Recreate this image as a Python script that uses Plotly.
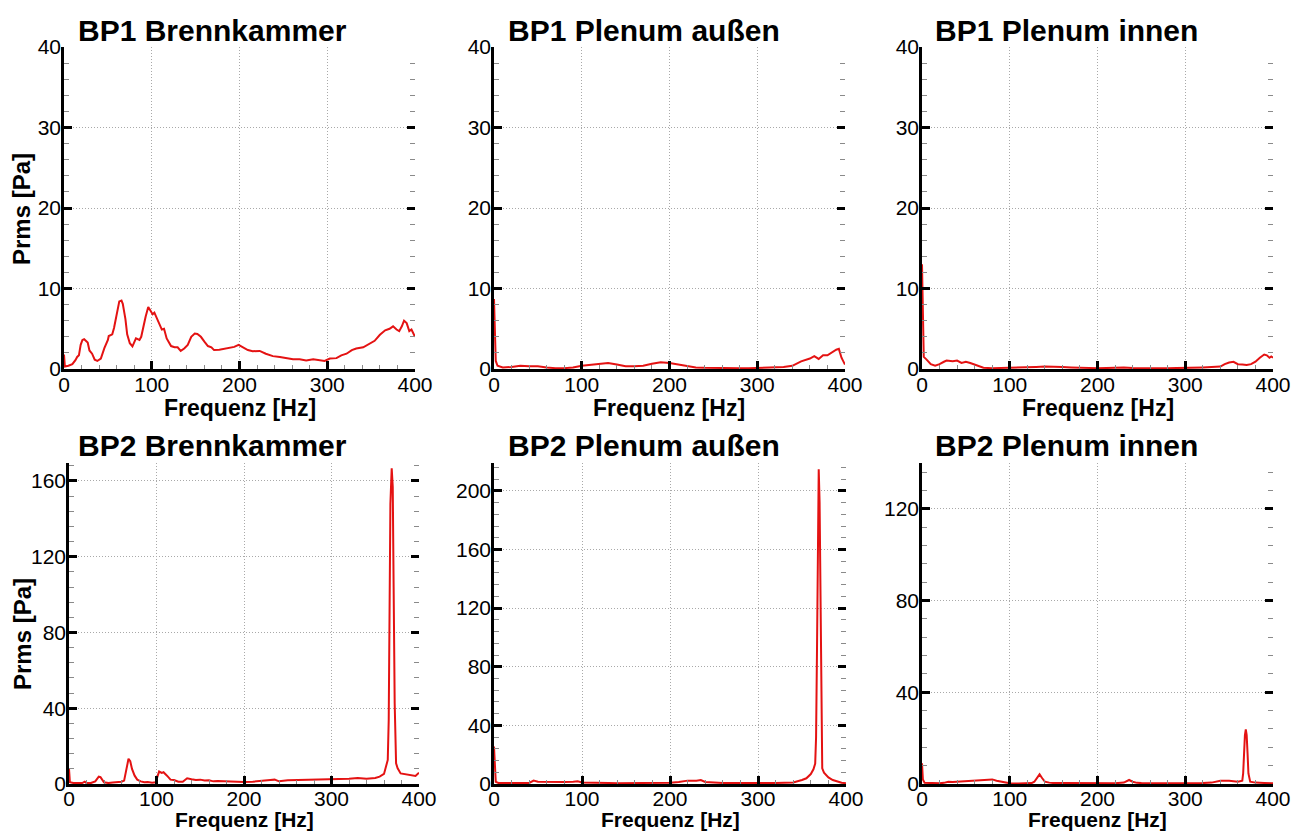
import plotly.graph_objects as go

# ---------------- data ----------------
TITLES = ["BP1 Brennkammer", "BP1 Plenum außen", "BP1 Plenum innen",
          "BP2 Brennkammer", "BP2 Plenum außen", "BP2 Plenum innen"]
X_LABEL = "Frequenz [Hz]"
Y_LABEL = "Prms [Pa]"

# (frequency [Hz], Prms [Pa]) pairs
BP1_BRENNKAMMER = [
    (0, 1.8), (1, 0.3), (5, 0.4), (9.5, 0.6), (13, 1.1), (15, 1.5), (17, 1.7), (19, 3.0), (21, 3.6),
    (23, 3.7), (27, 3.3), (29, 2.3), (32, 1.9), (35, 1.15), (38, 1.0), (42, 1.3), (46, 2.6), (50, 3.6),
    (51, 4.1), (55, 4.3), (57, 5.1), (60, 7.0), (63, 8.4), (65.5, 8.5), (67, 8.1), (70, 6.2), (72, 4.3),
    (75, 3.2), (78, 2.8), (82, 3.8), (86, 3.6), (88, 4.0), (91, 5.6), (93, 6.5), (96, 7.7), (99, 7.2),
    (101, 6.8), (103, 7.0), (105.5, 6.4), (108.5, 5.5), (111.5, 4.9), (114, 5.0), (117, 3.8),
    (122, 2.85), (126, 2.7), (129.5, 2.7), (133, 2.25), (137, 2.55), (141, 3.0), (145, 4.0), (149, 4.4),
    (152, 4.35), (156, 4.0), (160, 3.4), (164, 2.85), (168, 2.7), (171, 2.35), (177, 2.4), (183, 2.55),
    (189, 2.7), (194, 2.75), (199, 3.0), (204, 2.7), (209.5, 2.35), (215, 2.2), (223, 2.25), (230, 1.9),
    (238, 1.6), (246, 1.5), (253, 1.4), (261, 1.2), (268.5, 1.2), (276, 1.05), (284, 1.2), (291, 1.05),
    (297, 1.0), (303, 1.3), (310.5, 1.35), (316, 1.7), (322, 1.9), (328, 2.35), (333, 2.55), (341, 2.7),
    (348.5, 3.2), (354, 3.5), (360, 4.25), (366, 4.8), (371, 5.0), (375, 5.3), (379, 4.9), (382, 4.7),
    (385, 5.3), (387.5, 6.0), (390.5, 5.7), (393.5, 4.7), (396, 4.9), (400, 4.0)]

BP1_PLENUM_AUSSEN = [
    (0, 8.7), (1, 4.0), (2, 1.0), (4, 0.4), (10, 0.2), (20, 0.25), (30, 0.4), (40, 0.35), (50, 0.35),
    (60, 0.2), (70, 0.1), (80, 0.1), (90, 0.2), (100, 0.4), (110, 0.5), (120, 0.6), (130, 0.75),
    (140, 0.55), (150, 0.35), (160, 0.35), (170, 0.4), (180, 0.65), (190, 0.85), (200, 0.75),
    (210, 0.55), (220, 0.35), (230, 0.2), (240, 0.15), (250, 0.12), (260, 0.1), (270, 0.1), (280, 0.1),
    (290, 0.1), (300, 0.12), (310, 0.15), (320, 0.25), (330, 0.25), (340, 0.4), (350, 0.95), (360, 1.3),
    (365, 1.6), (370, 1.25), (375, 1.7), (380, 1.7), (385, 2.1), (390, 2.4), (393, 2.5), (396, 1.4),
    (400, 0.55)]

BP1_PLENUM_INNEN = [
    (0, 13.0), (1, 8.0), (2, 1.5), (5, 1.2), (10, 0.6), (15, 0.4), (20, 0.6), (25, 0.9), (28, 1.05),
    (35, 0.95), (40, 1.05), (45, 0.75), (50, 0.9), (55, 0.75), (60, 0.55), (65, 0.35), (70, 0.15),
    (80, 0.1), (90, 0.12), (100, 0.1), (110, 0.15), (120, 0.2), (130, 0.25), (140, 0.3), (150, 0.3),
    (160, 0.25), (170, 0.2), (180, 0.15), (190, 0.12), (200, 0.1), (210, 0.12), (220, 0.15), (230, 0.2),
    (240, 0.12), (250, 0.1), (260, 0.1), (270, 0.1), (280, 0.1), (290, 0.12), (300, 0.12), (310, 0.15),
    (320, 0.2), (330, 0.25), (340, 0.3), (345, 0.6), (350, 0.8), (355, 0.9), (360, 0.6), (365, 0.55),
    (370, 0.5), (375, 0.6), (380, 0.9), (385, 1.4), (390, 1.8), (393, 1.7), (396, 1.4), (398, 1.55),
    (400, 1.4)]

BP2_BRENNKAMMER = [
    (0, 8.0), (1, 1.0), (5, 0.5), (10, 0.5), (15, 0.5), (18, 1.2), (20, 0.5), (25, 0.5), (30, 1.4),
    (34, 3.9), (36, 3.6), (40, 0.9), (45, 0.5), (50, 0.8), (55, 0.9), (60, 1.2), (63, 1.8), (66, 9.8),
    (68, 13.3), (70, 12.0), (72, 8.0), (75, 4.4), (78, 2.3), (82, 1.4), (86, 0.9), (90, 1.1), (95, 0.7),
    (99, 0.9), (101, 4.4), (103, 6.6), (106, 5.9), (108, 6.2), (112, 4.4), (116, 2.3), (120, 2.1),
    (125, 1.2), (130, 1.2), (135, 3.0), (140, 2.5), (145, 2.1), (150, 2.3), (155, 1.8), (160, 2.0),
    (165, 1.4), (170, 1.6), (180, 1.4), (190, 1.2), (200, 1.1), (210, 1.2), (220, 1.8), (230, 2.1),
    (235, 2.3), (240, 1.4), (250, 2.0), (260, 2.1), (270, 2.3), (280, 2.3), (290, 2.5), (300, 2.3),
    (310, 2.5), (320, 2.8), (330, 3.2), (340, 2.8), (350, 3.2), (355, 3.9), (360, 5.3), (362, 8.3),
    (364.3, 12.7), (365.4, 33.8), (366.2, 86.6), (367.3, 148), (368.8, 166.7), (370, 157), (371, 104),
    (372.2, 42.6), (373.8, 10.9), (375.6, 8.3), (379, 5.6), (383, 5.3), (389, 4.8), (396, 4.2),
    (400, 6.0)]

BP2_PLENUM_AUSSEN = [
    (0, 25.5), (1, 5.0), (2, 1.5), (5, 0.7), (10, 0.6), (20, 0.5), (30, 0.6), (40, 0.7), (45, 2.3),
    (50, 1.6), (60, 1.4), (70, 1.6), (80, 1.4), (90, 1.6), (95, 1.8), (100, 1.1), (110, 1.1), (120, 0.9),
    (130, 0.7), (140, 0.5), (150, 0.5), (160, 0.5), (170, 0.5), (180, 0.5), (190, 0.7), (200, 0.9),
    (210, 1.4), (215, 2.0), (220, 2.3), (230, 2.3), (235, 2.7), (240, 1.4), (250, 0.9), (260, 0.7),
    (270, 0.6), (280, 0.5), (290, 0.5), (300, 0.6), (310, 0.7), (320, 0.7), (330, 0.8), (340, 1.1),
    (350, 2.7), (355, 3.9), (360, 6.8), (363, 10.0), (365, 14.0), (366, 32), (367, 89), (368, 157),
    (369, 214.8), (370, 192), (371, 112), (372, 32), (373, 10.7), (375, 7.7), (380, 4.5), (385, 2.7),
    (390, 1.6), (395, 0.9), (400, 0.5)]

BP2_PLENUM_INNEN = [
    (0, 9.0), (1, 2.0), (3, 0.5), (10, 0.3), (20, 0.3), (25, 0.5), (30, 1.0), (35, 0.9), (40, 1.0),
    (50, 1.2), (60, 1.45), (70, 1.75), (80, 2.0), (85, 1.45), (90, 1.0), (95, 0.6), (100, 0.3),
    (110, 0.2), (120, 0.2), (125, 0.4), (128, 1.0), (132, 3.5), (134, 4.2), (137, 2.5), (140, 1.0),
    (145, 0.6), (150, 0.4), (160, 0.4), (170, 0.35), (180, 0.3), (190, 0.3), (200, 0.3), (210, 0.3),
    (220, 0.35), (230, 0.6), (236, 1.75), (240, 1.0), (245, 0.5), (250, 0.4), (260, 0.35), (270, 0.3),
    (280, 0.3), (290, 0.3), (300, 0.3), (310, 0.35), (320, 0.4), (330, 0.6), (340, 1.45), (350, 1.45),
    (360, 1.0), (365, 1.45), (366, 4.6), (367, 14.8), (368, 21.3), (369, 23.8), (370, 21.3), (371, 13.4),
    (372, 4.6), (374, 1.0), (380, 0.6), (390, 0.45), (400, 0.3)]

SERIES = [BP1_BRENNKAMMER, BP1_PLENUM_AUSSEN, BP1_PLENUM_INNEN,
          BP2_BRENNKAMMER, BP2_PLENUM_AUSSEN, BP2_PLENUM_INNEN]

X_RANGE = [0, 400]
X_DTICK = 100
X_MINOR = 20
Y_MAX = [40, 40, 40, 169.5, 219, 140]
Y_DTICK = [10, 10, 10, 40, 40, 40]
Y_MINOR = [2, 2, 2, 8, 8, 8]

# ---------------- layout geometry (pixels) ----------------
W, H = 1304, 833
BOX = [(64, 415, 47, 369), (494, 845, 47, 369), (922, 1273, 47, 369),
       (69, 419, 463, 784), (494, 846, 463, 784), (922, 1273, 463, 784)]
TITLE_LEFT = [76, 506, 933, 76, 506, 933]
TITLE_CY = [30, 30, 30, 445, 445, 445]
# x-axis label: (y in px, anchor) ; bottom row sits on the page's lower edge
XLAB_POS = [(408, "middle"), (408, "middle"), (408, "middle"),
            (833, "bottom"), (833, "bottom"), (833, "bottom")]
XLAB_SIZE = [23, 23, 23, 21, 21, 21]
XTICK_STANDOFF = [-5, -5, -5, -6, -6, -6]
YLAB_POS = {0: (22, 209), 3: (22, 634)}

RED = "rgb(228,18,18)"
FONT = "Liberation Sans, Arial, sans-serif"
GRID = "#a9a9a9"
GRID_DASH = "1px,2px"
MINOR_COLOR = "#8a8a8a"

fig = go.Figure()
layout = dict(width=W, height=H, autosize=False,
              margin=dict(l=0, r=0, t=0, b=0, pad=0, autoexpand=False),
              paper_bgcolor="white", plot_bgcolor="white", showlegend=False,
              font=dict(family=FONT, color="black"))
annotations = []

for i, (series, (x0, x1, y0, y1)) in enumerate(zip(SERIES, BOX)):
    n = i + 1
    m = i + 7
    f = [s[0] for s in series]
    p = [s[1] for s in series]
    fig.add_trace(go.Scatter(x=f, y=p, xaxis=f"x{n}", yaxis=f"y{n}", mode="lines",
                             line=dict(color=RED, width=2), hoverinfo="x+y"))
    # invisible companion trace so the right-hand tick axis is drawn
    fig.add_trace(go.Scatter(x=f, y=p, xaxis=f"x{n}", yaxis=f"y{m}", mode="lines",
                             line=dict(color=RED, width=1), opacity=0, hoverinfo="skip"))
    xd = [x0 / W, x1 / W]
    yd = [1 - y1 / H, 1 - y0 / H]
    layout[f"xaxis{n}"] = dict(
        domain=xd, anchor=f"y{n}", range=X_RANGE, tickmode="linear", tick0=0, dtick=X_DTICK,
        ticks="inside", ticklen=8, tickwidth=3, tickcolor="black", automargin=False,
        showline=True, linecolor="black", linewidth=2.5,
        showgrid=True, gridcolor=GRID, griddash=GRID_DASH, gridwidth=1, zeroline=False,
        minor=dict(tickmode="linear", tick0=0, dtick=X_MINOR, ticks="inside", ticklen=4,
                   tickwidth=1, tickcolor=MINOR_COLOR, showgrid=False),
        tickfont=dict(family=FONT, size=21, color="black"), ticklabelstandoff=XTICK_STANDOFF[i])
    layout[f"yaxis{n}"] = dict(
        domain=yd, anchor=f"x{n}", range=[0, Y_MAX[i]], tickmode="linear", tick0=0, dtick=Y_DTICK[i],
        ticks="inside", ticklen=8, tickwidth=3, tickcolor="black", automargin=False,
        showline=True, linecolor="black", linewidth=2.5,
        showgrid=True, gridcolor=GRID, griddash=GRID_DASH, gridwidth=1, zeroline=False,
        minor=dict(tickmode="linear", tick0=0, dtick=Y_MINOR[i], ticks="inside", ticklen=5,
                   tickwidth=1, tickcolor=MINOR_COLOR, showgrid=False),
        tickfont=dict(family=FONT, size=21, color="black"), ticklabelstandoff=-4)
    layout[f"yaxis{m}"] = dict(
        overlaying=f"y{n}", anchor=f"x{n}", side="right", range=[0, Y_MAX[i]], automargin=False,
        tickmode="linear", tick0=0, dtick=Y_DTICK[i], ticks="inside", ticklen=8, tickwidth=3,
        tickcolor="black", showticklabels=False, showline=False, showgrid=False, zeroline=False,
        minor=dict(tickmode="linear", tick0=0, dtick=Y_MINOR[i], ticks="inside", ticklen=5,
                   tickwidth=1, tickcolor=MINOR_COLOR, showgrid=False))

    annotations.append(dict(text=TITLES[i], xref="paper", yref="paper",
                            x=TITLE_LEFT[i] / W, y=1 - TITLE_CY[i] / H,
                            xanchor="left", yanchor="middle", showarrow=False,
                            font=dict(family=FONT, size=30, color="black", weight="bold")))
    ly, lanchor = XLAB_POS[i]
    annotations.append(dict(text=X_LABEL, xref="paper", yref="paper",
                            x=(x0 + x1) / 2 / W, y=1 - ly / H,
                            xanchor="center", yanchor=lanchor, showarrow=False,
                            font=dict(family=FONT, size=XLAB_SIZE[i], color="black", weight="bold")))
    if i in YLAB_POS:
        cx, cy = YLAB_POS[i]
        annotations.append(dict(text=Y_LABEL, xref="paper", yref="paper",
                                x=cx / W, y=1 - cy / H, textangle=-90,
                                xanchor="center", yanchor="middle", showarrow=False,
                                font=dict(family=FONT, size=24, color="black", weight="bold")))

layout["annotations"] = annotations
fig.update_layout(**layout)
fig.write_html("out.html")
